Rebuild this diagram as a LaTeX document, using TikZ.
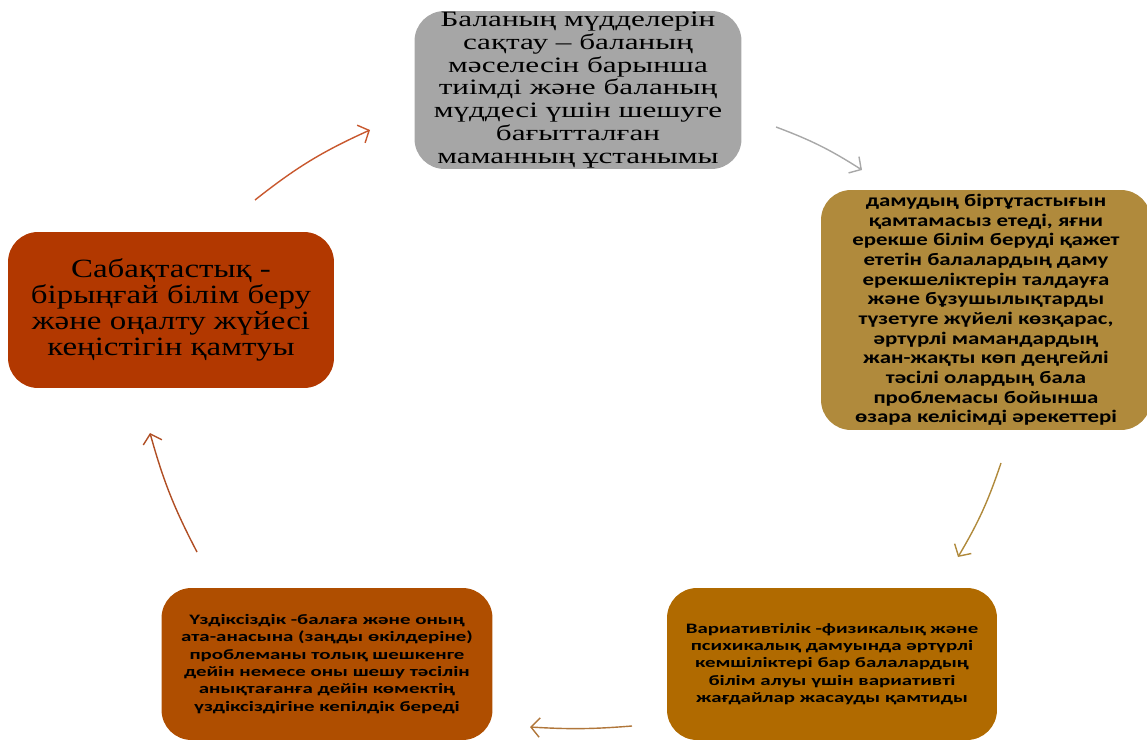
\documentclass[tikz,border=0pt]{standalone}
\usepackage{fontspec}
\usetikzlibrary{arrows.meta}
\newfontfamily\boxserif[FakeStretch=1.42]{Liberation Serif}
\newfontfamily\sideserif[FakeStretch=1.25]{Liberation Serif}
\newfontfamily\boxsans[FakeStretch=1.3]{Carlito}
\newfontfamily\notesans[FakeStretch=1.45]{Carlito}
\definecolor{greybox}{HTML}{A6A6A6}
\definecolor{goldbox}{HTML}{B08A3C}
\definecolor{redbox}{HTML}{B23800}
\definecolor{rustbox}{HTML}{AF4E00}
\definecolor{amberbox}{HTML}{B06A00}
\definecolor{redarrow}{HTML}{C8582E}
\definecolor{greyarrow}{HTML}{A8A8A8}
\definecolor{goldarrow}{HTML}{B08A3C}
\definecolor{brownarrow}{HTML}{B0763A}
\definecolor{rustarrow}{HTML}{B04E24}
\tikzset{
  roundbox/.style={rounded corners=0.6cm, inner sep=0pt, align=center, text=black},
  cyclearrow/.style={line width=0.8pt, -{Straight Barb[length=5pt,width=11pt]}}
}
\begin{document}
\begin{tikzpicture}[x=0.02cm,y=-0.02cm]
\useasboundingbox (0,0) rectangle (1147,743);
\clip (0,0) rectangle (1147,743);
\coordinate (a) at (578,90);
\coordinate (b) at (986,310);
\coordinate (c) at (832,664);
\coordinate (d) at (327,664);
\coordinate (e) at (171,310);
% draws boxes
\node[roundbox, fill=greybox, minimum width=6.54cm, minimum height=3.16cm,
  font=\boxserif\fontsize{12.5}{13}\selectfont] (principle) at (a)
  {Баланың мүдделерін\\сақтау – баланың\\мәселесін барынша\\тиімді және баланың\\мүддесі үшін шешуге\\бағытталған\\маманның ұстанымы};
\node[roundbox, fill=goldbox, minimum width=6.6cm, minimum height=4.8cm,
  font=\boxsans\bfseries\fontsize{10}{11.2}\selectfont] (unity) at (b)
  {дамудың біртұтастығын\\қамтамасыз етеді, яғни\\ерекше білім беруді қажет\\ететін балалардың даму\\ерекшеліктерін талдауға\\және бұзушылықтарды\\түзетуге жүйелі көзқарас,\\әртүрлі мамандардың\\жан-жақты көп деңгейлі\\тәсілі олардың бала\\проблемасы бойынша\\өзара келісімді әрекеттері};
\node[roundbox, fill=amberbox, minimum width=6.6cm, minimum height=3.04cm,
  font=\notesans\bfseries\fontsize{8.2}{9.9}\selectfont] (variability) at (c)
  {Вариативтілік -физикалық және\\психикалық дамуында әртүрлі\\кемшіліктері бар балалардың\\білім алуы үшін вариативті\\жағдайлар жасауды қамтиды};
\node[roundbox, fill=rustbox, minimum width=6.62cm, minimum height=3.04cm,
  font=\notesans\bfseries\fontsize{8.2}{9.9}\selectfont] (continuity) at (d)
  {Үздіксіздік -балаға және оның\\ата-анасына (заңды өкілдеріне)\\проблеманы толық шешкенге\\дейін немесе оны шешу тәсілін\\анықтағанға дейін көмектің\\үздіксіздігіне кепілдік береді};
\node[roundbox, fill=redbox, minimum width=6.52cm, minimum height=3.12cm,
  font=\sideserif\fontsize{15}{14.8}\selectfont] (succession) at (e)
  {Сабақтастық -\\бірыңғай білім беру\\және оңалту жүйесі\\кеңістігін қамтуы};
% arrow ends
\coordinate (s1) at (255,200);
\coordinate (t1) at (370,130);
\coordinate (s2) at (776,127);
\coordinate (t2) at (862,170);
\coordinate (s3) at (1001,463);
\coordinate (t3) at (958,557);
\coordinate (s4) at (632,726);
\coordinate (t4) at (530,727);
\coordinate (s5) at (197,552);
\coordinate (t5) at (150,433);
% draws arrows
\draw[cyclearrow, redarrow] (s1) to[bend left=7] (t1);
\draw[cyclearrow, greyarrow] (s2) to[bend left=6] (t2);
\draw[cyclearrow, goldarrow] (s3) to[bend left=6] (t3);
\draw[cyclearrow, brownarrow] (s4) to[bend left=4] (t4);
\draw[cyclearrow, rustarrow] (s5) to[bend left=6] (t5);
\end{tikzpicture}
\end{document}
